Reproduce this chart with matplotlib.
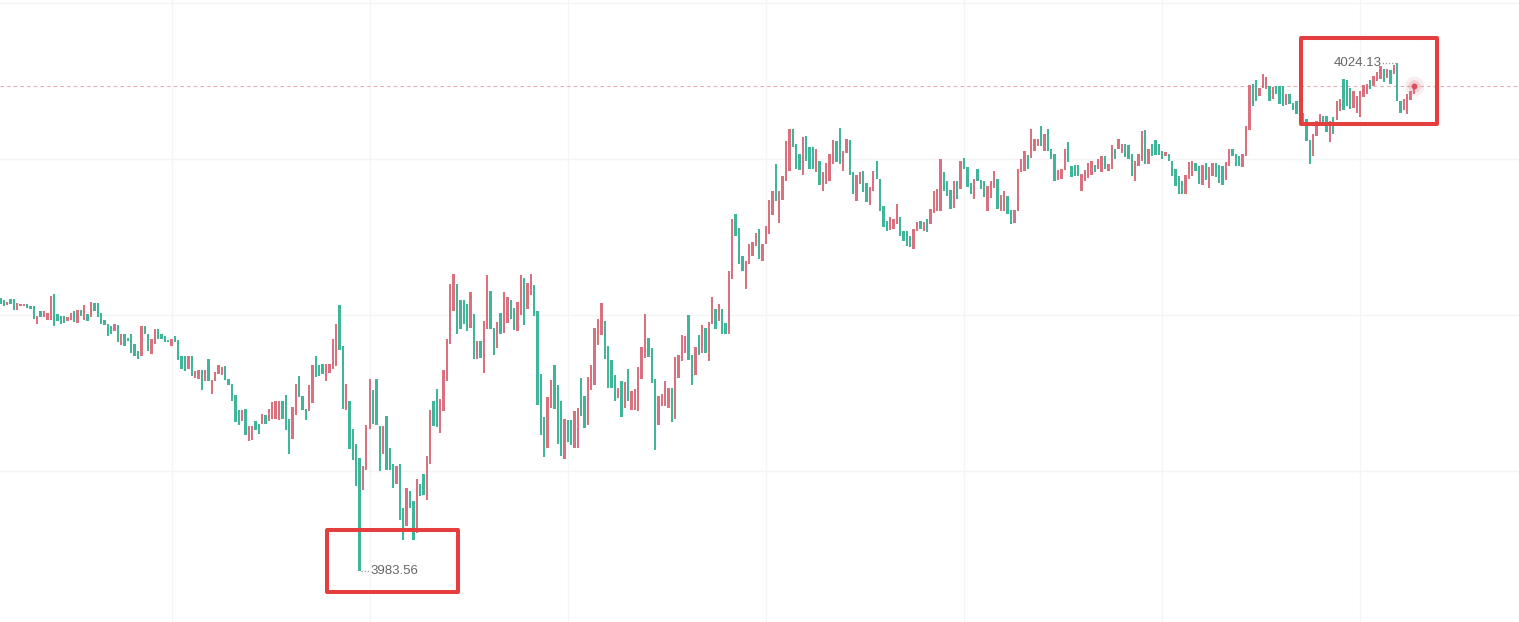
import numpy as np
import matplotlib
matplotlib.use("Agg")
import matplotlib.pyplot as plt
from matplotlib.patches import Rectangle

# candle bodies, one value per bar (left to right)
opens = [
    4005.4, 4005.2, 4004.8, 4005.3, 4005.3, 4004.4, 4004.7, 4004.7, 4004.9, 4004.7,
    4004.7, 4003.3, 4004.3, 4003.8, 4003.6, 4003.6, 4005.7, 4004.1, 4003.9, 4003.9,
    4003.5, 4003.6, 4004.3, 4003.4, 4004.4, 4003.6, 4004.1, 4003.8, 4005.0, 4005.0,
    4004.2, 4003.6, 4003.3, 4003.1, 4002.7, 4003.2, 4001.6, 4002.5, 4002.2, 4002.5,
    4001.7, 4001.1, 4000.7, 4003.1, 4002.5, 4000.9, 4001.7, 4002.9, 4002.5, 4002.3,
    4002.0, 4001.5, 4002.3, 4002.0, 4000.7, 4000.7, 3999.7, 4000.7, 3999.0, 3998.9,
    3999.6, 3998.7, 4000.5, 3997.7, 3998.7, 3999.3, 3999.2, 3999.9, 3998.9, 3998.5,
    3997.6, 3996.4, 3995.5, 3996.5, 3993.9, 3994.0, 3995.5, 3995.3, 3995.3, 3996.0,
    3995.5, 3995.7, 3995.7, 3995.6, 3997.1, 3997.6, 3995.7, 3994.1, 3996.0, 3999.1,
    3997.5, 3996.5, 3996.3, 3997.0, 4000.7, 4000.0, 4000.1, 3998.7, 3999.4, 3999.7,
    3999.9, 4004.8, 4001.5, 3996.4, 3997.1, 3994.9, 3993.7, 3992.6, 3990.0, 3991.6,
    3994.9, 3998.0, 3998.9, 3995.1, 3992.9, 3995.9, 3993.4, 3992.1, 3990.5, 3992.1,
    3988.6, 3987.1, 3989.9, 3989.1, 3986.6, 3990.5, 3991.3, 3989.2, 3992.1, 3997.1,
    3998.1, 3994.6, 3996.3, 3998.7, 4001.7, 4004.3, 4006.5, 4005.2, 4005.2, 4004.9,
    4003.0, 4004.1, 4000.5, 4001.9, 3999.4, 4002.9, 4005.9, 4003.0, 4001.4, 4004.2,
    4002.6, 4003.4, 4005.2, 4004.6, 4002.7, 4004.0, 4007.0, 4004.5, 4005.6, 4006.4,
    4004.3, 3999.3, 3995.8, 3993.4, 3996.6, 4000.0, 3998.4, 3997.1, 3992.5, 3995.6,
    3995.6, 3993.4, 3993.4, 3999.0, 3997.5, 3995.2, 3998.0, 3998.4, 4001.6, 4002.4,
    4003.5, 4001.5, 4000.4, 3999.2, 3997.4, 3998.7, 3996.6, 3999.7, 3996.4, 3996.4,
    3996.3, 3998.9, 4000.6, 4002.2, 4001.4, 3998.9, 3995.2, 3996.7, 3996.7, 3996.6,
    3998.2, 3995.7, 3999.0, 4000.3, 4001.0, 4004.0, 4000.8, 3999.2, 4002.4, 4001.0,
    4003.0, 4000.3, 4003.3, 4004.5, 4003.5, 4004.5, 4003.4, 4002.5, 4006.9, 4012.1,
    4011.0, 4008.7, 4006.1, 4008.1, 4008.7, 4009.5, 4010.9, 4008.3, 4009.7, 4010.5,
    4012.0, 4016.1, 4011.4, 4013.2, 4014.7, 4015.5, 4018.9, 4017.7, 4016.9, 4015.2,
    4018.3, 4017.4, 4017.4, 4015.4, 4016.3, 4013.9, 4014.5, 4014.7, 4016.1, 4017.9,
    4019.0, 4015.5, 4017.0, 4018.0, 4015.4, 4013.1, 4014.5, 4015.5, 4014.6, 4012.8,
    4013.9, 4016.3, 4014.9, 4012.7, 4011.5, 4010.8, 4010.9, 4011.3, 4011.8, 4010.7,
    4010.7, 4010.3, 4009.3, 4010.7, 4011.5, 4010.7, 4011.7, 4011.3, 4012.2, 4012.3,
    4012.3, 4015.4, 4014.7, 4014.0, 4012.6, 4014.7, 4014.1, 4016.6, 4015.8, 4014.6,
    4013.3, 4015.7, 4014.8, 4014.7, 4012.3, 4013.4, 4014.2, 4014.9, 4012.3, 4012.3,
    4013.5, 4012.4, 4011.4, 4012.3, 4015.4, 4015.5, 4016.8, 4016.6, 4017.1, 4017.5,
    4019.1, 4017.1, 4018.9, 4017.3, 4016.9, 4014.8, 4014.9, 4015.6, 4017.8, 4015.9,
    4016.0, 4016.0, 4013.9, 4014.7, 4015.0, 4015.2, 4016.0, 4015.7, 4015.4, 4016.7,
    4015.5, 4015.7, 4017.3, 4017.3, 4017.0, 4017.7, 4017.6, 4016.9, 4014.7, 4015.9,
    4016.3, 4018.8, 4016.1, 4017.7, 4018.0, 4017.7, 4017.1, 4016.7, 4016.9, 4016.3,
    4015.7, 4015.1, 4014.7, 4013.7, 4014.9, 4015.1, 4016.2, 4015.9, 4014.4, 4016.2,
    4014.2, 4015.1, 4016.2, 4016.0, 4015.9, 4014.8, 4015.9, 4017.3, 4016.9, 4016.7,
    4015.8, 4016.7, 4018.8, 4022.5, 4022.8, 4021.5, 4022.2, 4022.1, 4022.3, 4021.3,
    4022.3, 4022.3, 4022.3, 4020.8, 4021.7, 4021.0, 4021.1, 4020.7, 4020.2, 4019.7,
    4018.0, 4016.7, 4018.3, 4019.3, 4019.9, 4019.9, 4017.8, 4019.8, 4019.6, 4020.3,
    4022.9, 4022.8, 4022.2, 4020.6, 4020.2, 4019.8, 4021.4, 4021.7, 4022.8, 4022.3,
    4022.7, 4022.9, 4023.7, 4023.0, 4023.6, 4023.3, 4024.13, 4021.1, 4020.4, 4020.1,
    4021.2, 4021.7,
]
closes = [
    4004.9, 4004.7, 4005.0, 4004.9, 4004.4, 4005.0, 4004.9, 4004.9, 4004.6, 4004.5,
    4003.7, 4003.9, 4003.8, 4004.3, 4004.2, 4005.5, 4003.1, 4003.5, 4003.3, 4003.4,
    4003.8, 4004.2, 4003.4, 4004.4, 4003.9, 4004.8, 4003.5, 4005.0, 4004.3, 4003.8,
    4003.3, 4003.2, 4002.3, 4002.5, 4003.3, 4001.8, 4002.5, 4001.5, 4001.9, 4001.0,
    4000.7, 4000.5, 4003.1, 4002.5, 4001.1, 4002.1, 4002.9, 4002.1, 4002.1, 4001.8,
    4001.8, 4002.1, 4001.8, 4000.4, 3999.7, 3999.5, 4000.7, 3999.1, 3999.5, 3999.6,
    3998.0, 3999.6, 3998.7, 3998.8, 3999.4, 4000.0, 3999.8, 3998.8, 3998.4, 3997.1,
    3995.4, 3995.2, 3996.4, 3994.4, 3995.1, 3995.1, 3994.8, 3994.5, 3996.1, 3995.3,
    3996.5, 3997.0, 3997.1, 3997.1, 3995.7, 3994.8, 3992.9, 3996.6, 3998.5, 3997.4,
    3996.4, 3995.6, 3998.4, 4000.0, 3999.0, 3999.1, 3999.3, 4000.1, 4000.1, 4002.1,
    4003.3, 4001.2, 3996.5, 3998.5, 3993.3, 3992.4, 3990.3, 3983.56, 3991.9, 3995.2,
    3998.9, 3995.3, 3995.2, 3991.5, 3995.1, 3991.6, 3991.6, 3990.2, 3991.9, 3987.6,
    3986.0, 3990.2, 3988.6, 3986.0, 3990.9, 3989.5, 3989.6, 3992.7, 3996.4, 3995.1,
    3995.0, 3997.3, 3999.6, 4002.1, 4006.5, 4007.3, 4002.5, 4002.9, 4003.3, 4002.7,
    4005.8, 4000.5, 4001.9, 4000.6, 4003.5, 4007.2, 4002.9, 4000.8, 4003.4, 4002.5,
    4005.8, 4005.4, 4003.7, 4002.8, 4005.0, 4007.2, 4003.2, 4006.6, 4007.3, 4003.9,
    3996.8, 3994.4, 3992.6, 3997.4, 3998.8, 3996.5, 3993.7, 3992.7, 3995.7, 3993.8,
    3993.6, 3996.3, 3996.6, 3995.9, 3995.0, 3999.0, 4000.0, 4003.0, 4003.7, 4005.0,
    4000.5, 3998.2, 3998.2, 3997.1, 3998.2, 3995.8, 3998.6, 3997.1, 3997.9, 3998.1,
    3999.8, 4001.4, 4004.1, 4000.6, 3998.6, 3993.2, 3997.5, 3997.7, 3998.7, 3998.2,
    3995.4, 4000.6, 4000.8, 4002.4, 4002.3, 4000.4, 3998.4, 4001.4, 4000.8, 4003.2,
    4001.0, 4003.4, 4005.4, 4002.9, 4004.9, 4002.5, 4002.5, 4007.5, 4011.7, 4010.3,
    4008.1, 4007.5, 4008.3, 4009.7, 4009.8, 4010.6, 4008.5, 4009.7, 4011.1, 4013.2,
    4013.9, 4013.1, 4013.9, 4015.1, 4017.9, 4018.9, 4017.4, 4015.7, 4015.6, 4018.2,
    4016.3, 4015.7, 4015.7, 4017.3, 4014.4, 4015.4, 4016.2, 4016.9, 4018.0, 4016.2,
    4016.1, 4017.1, 4018.1, 4015.2, 4013.7, 4015.2, 4015.4, 4013.8, 4013.0, 4014.2,
    4015.5, 4014.9, 4012.3, 4011.0, 4010.7, 4011.8, 4011.7, 4012.9, 4010.3, 4009.9,
    4009.5, 4009.4, 4010.9, 4011.4, 4010.9, 4011.4, 4010.6, 4012.5, 4013.9, 4014.1,
    4016.5, 4013.9, 4013.5, 4012.5, 4014.7, 4013.3, 4016.3, 4015.7, 4014.2, 4013.7,
    4014.9, 4014.7, 4014.1, 4013.4, 4014.3, 4014.7, 4015.5, 4012.5, 4013.6, 4013.9,
    4012.1, 4011.3, 4012.4, 4015.7, 4016.5, 4017.1, 4015.7, 4018.9, 4018.1, 4018.1,
    4017.5, 4018.5, 4017.1, 4016.5, 4014.7, 4015.6, 4015.7, 4017.3, 4016.2, 4015.0,
    4015.1, 4015.1, 4015.3, 4015.6, 4016.2, 4016.3, 4015.4, 4016.5, 4016.7, 4015.7,
    4016.1, 4017.6, 4016.5, 4018.1, 4017.7, 4016.6, 4016.5, 4015.1, 4016.3, 4016.9,
    4018.7, 4016.1, 4017.3, 4016.7, 4016.8, 4016.8, 4016.5, 4017.0, 4016.3, 4015.1,
    4014.3, 4013.7, 4013.7, 4015.2, 4016.2, 4016.3, 4015.5, 4014.5, 4016.0, 4014.8,
    4015.8, 4016.2, 4015.0, 4014.6, 4014.4, 4016.2, 4017.3, 4016.7, 4015.9, 4015.9,
    4016.9, 4019.1, 4022.4, 4020.7, 4021.1, 4022.2, 4023.3, 4023.0, 4021.1, 4022.2,
    4021.7, 4020.9, 4020.7, 4021.7, 4020.9, 4020.4, 4020.1, 4020.0, 4019.2, 4017.9,
    4016.1, 4018.5, 4019.5, 4020.1, 4019.1, 4018.6, 4019.5, 4018.5, 4021.1, 4021.3,
    4020.4, 4020.7, 4020.5, 4021.9, 4021.5, 4021.9, 4022.4, 4022.5, 4022.1, 4023.1,
    4023.4, 4023.9, 4022.6, 4023.7, 4022.5, 4024.0, 4021.1, 4020.2, 4021.3, 4021.7,
    4021.9, 4022.3,
]

# price levels of the horizontal grid and bar positions of the vertical grid
grid_prices = [3991.5, 4004.0, 4016.5, 4029.0]
grid_bars = [51, 110, 169, 228, 287, 346, 405]

UP = "#d9717e"
DOWN = "#3fb59a"
W, H = 1519, 622

o = np.array(opens)
c = np.array(closes)
x = np.arange(len(o))
cols = np.where(c >= o, UP, DOWN)

fig = plt.figure(figsize=(W / 100, H / 100), dpi=100)
fig.patch.set_facecolor("white")
ax = fig.add_axes([0, 0, 1, 1])
ax.set_axis_off()
ax.set_xlim(-0.1, 452.3)
ax.set_ylim(3979.44, 4029.2)

for gp in grid_prices:
    ax.axhline(gp, color="#f4f4f6", lw=1, zorder=0)
for gb in grid_bars:
    ax.axvline(gb, color="#f5f5f7", lw=1, zorder=0)

ax.bar(x, c - o, bottom=o, width=0.7, color=cols, linewidth=0, zorder=2)

# last price line and marker
last = c[-1]
ax.axhline(last, color="#e6a9b1", lw=0.8, ls=(0, (3, 3)), zorder=1)
ax.scatter([x[-1]], [last], s=200, color=UP, alpha=0.12, linewidths=0, zorder=3)
ax.scatter([x[-1]], [last], s=80, color=UP, alpha=0.22, linewidths=0, zorder=3)
ax.scatter([x[-1]], [last], s=18, color="#d9505e", linewidths=0, zorder=4)

# min / max annotations
lo_i = int(np.argmin(np.minimum(o, c)))
lo_v = min(o[lo_i], c[lo_i])
hi_i = int(np.argmax(np.maximum(o, c)))
hi_v = max(o[hi_i], c[hi_i])

ax.plot([lo_i + 0.3, lo_i + 3.0], [lo_v, lo_v], color="#999999", lw=0.9,
        ls=(0, (1, 1.5)), zorder=3)
ax.text(lo_i + 3.1, lo_v, f"{lo_v:.2f}", ha="left", va="center",
        fontsize=9.5, color="#666666", family="Liberation Sans", zorder=3)
ax.plot([hi_i - 0.3, hi_i - 4.5], [hi_v, hi_v], color="#999999", lw=0.9,
        ls=(0, (1, 1.5)), zorder=3)
ax.text(hi_i - 4.6, hi_v, f"{hi_v:.2f}", ha="right", va="center",
        fontsize=9.5, color="#666666", family="Liberation Sans", zorder=3)

# red highlight boxes (figure pixels, from top-left)
for (bx0, by0, bx1, by1) in [(327, 530, 458, 592), (1301, 38, 1437, 124)]:
    r = Rectangle((bx0 / W, 1 - by1 / H), (bx1 - bx0) / W, (by1 - by0) / H,
                  transform=fig.transFigure, fill=False, edgecolor="#e53e3e",
                  linewidth=2.9, joinstyle="round", zorder=5)
    fig.patches.append(r)

fig.savefig("out.png", dpi=100, facecolor="white")
